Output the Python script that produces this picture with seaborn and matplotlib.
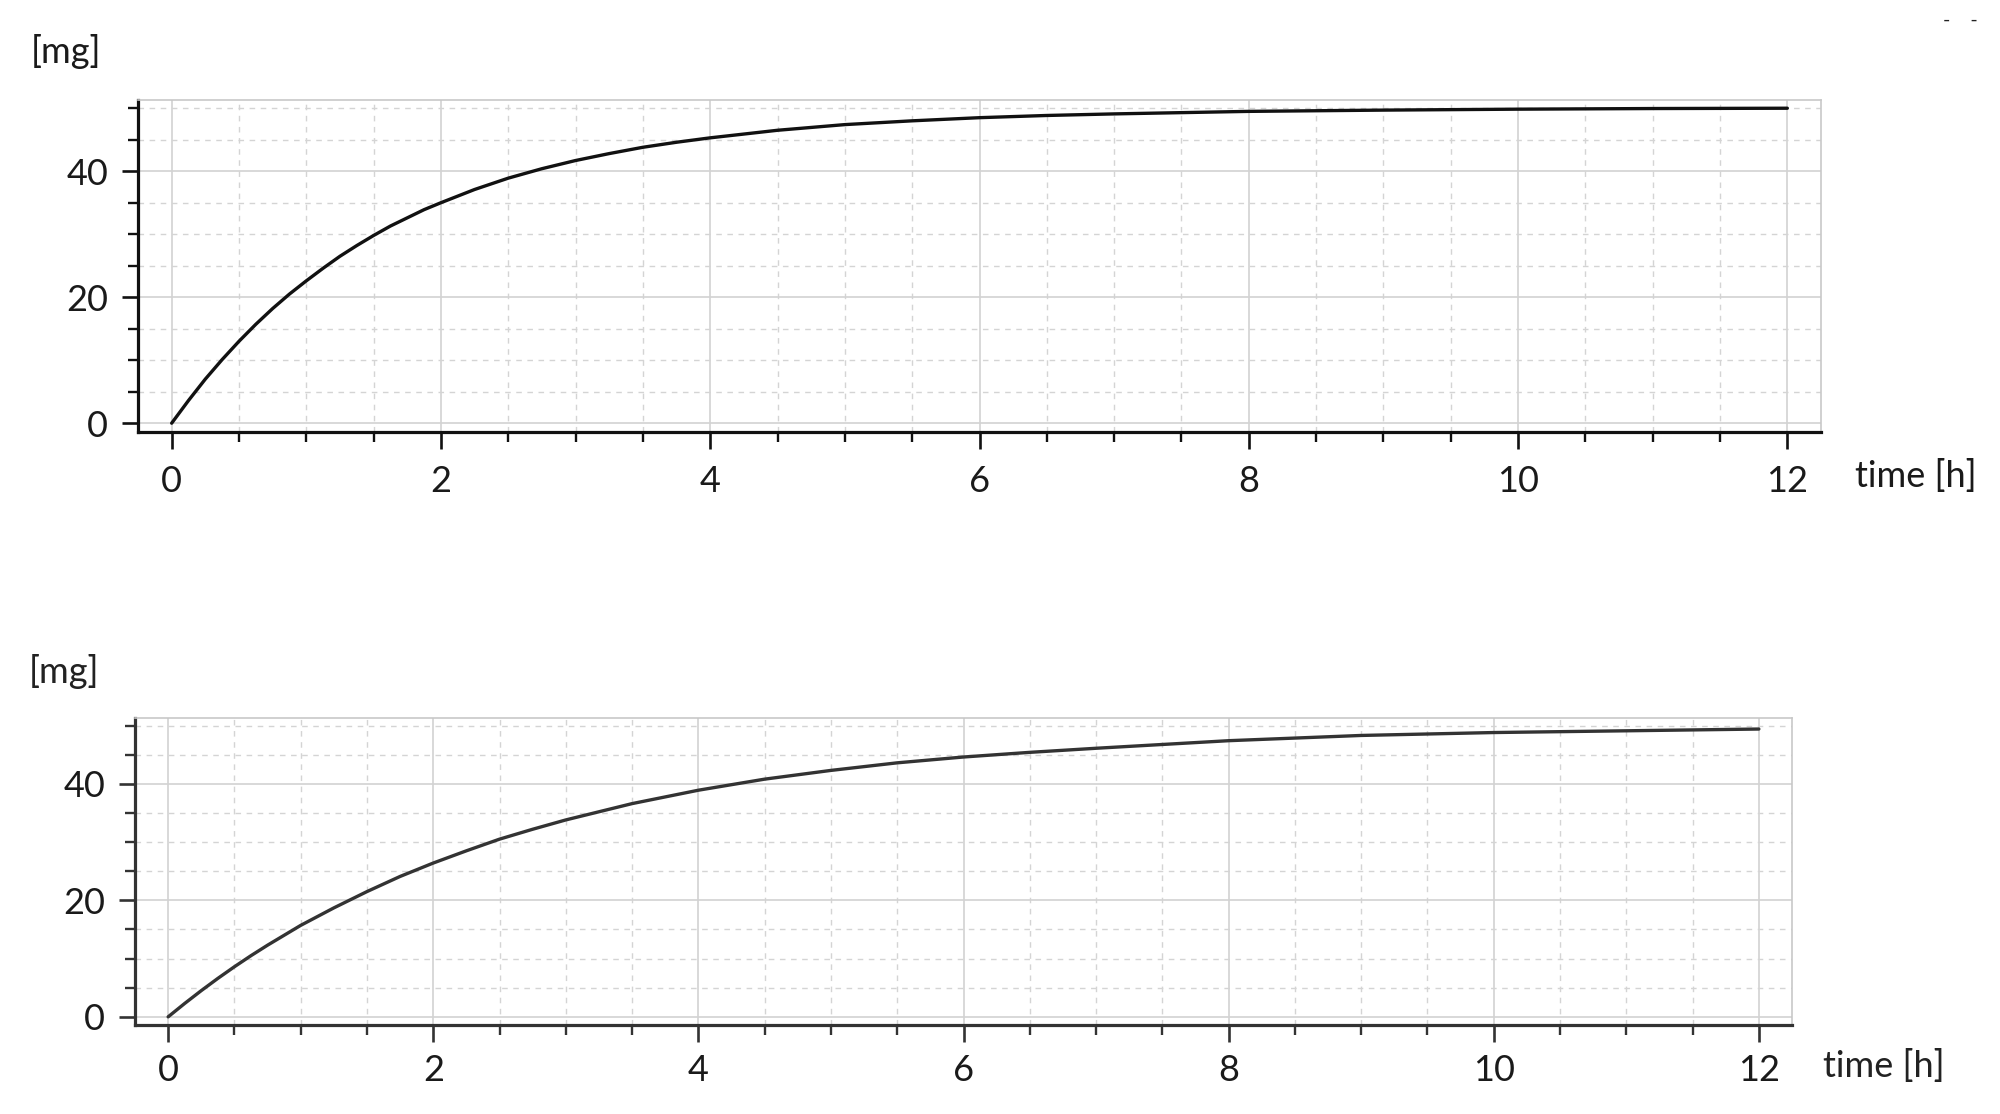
import seaborn as sns
import matplotlib.pyplot as plt
from matplotlib.ticker import MultipleLocator

# amount in mg over time
t_top = [0, 0.125, 0.25, 0.375, 0.5, 0.625, 0.75, 0.875, 1, 1.125, 1.25, 1.375, 1.5,
         1.625, 1.75, 1.875, 2, 2.25, 2.5, 2.75, 3, 3.25, 3.5, 3.75, 4, 4.5, 5, 5.5,
         6, 6.5, 7, 8, 9, 10, 11, 12]
mg_top = [0, 3.6, 7.0, 10.1, 13.0, 15.7, 18.2, 20.5, 22.6, 24.6, 26.5, 28.2, 29.8,
          31.3, 32.6, 33.9, 35.0, 37.1, 38.9, 40.4, 41.7, 42.8, 43.8, 44.6, 45.3,
          46.5, 47.4, 48.0, 48.5, 48.85, 49.1, 49.5, 49.7, 49.85, 49.95, 50.0]

t_bottom = [0, 0.125, 0.25, 0.375, 0.5, 0.625, 0.75, 0.875, 1, 1.25, 1.5, 1.75, 2,
            2.25, 2.5, 2.75, 3, 3.5, 4, 4.5, 5, 5.5, 6, 6.5, 7, 8, 9, 10, 11, 12]
mg_bottom = [0, 2.3, 4.5, 6.6, 8.6, 10.5, 12.3, 14.0, 15.7, 18.7, 21.5, 24.1, 26.4,
             28.5, 30.5, 32.2, 33.8, 36.6, 38.9, 40.8, 42.3, 43.6, 44.6, 45.4,
             46.1, 47.4, 48.3, 48.8, 49.1, 49.4]

x_ticks = [0, 2, 4, 6, 8, 10, 12]
y_ticks = [0, 20, 40]

sns.set_style('white')
plt.rcParams['font.family'] = ['Lato', 'DejaVu Sans']

fig = plt.figure(figsize=(20, 11.14), dpi=100)
ax1 = fig.add_axes([0.069, 0.6122, 0.8415, 0.298])
ax2 = fig.add_axes([0.0675, 0.0799, 0.8285, 0.2756])


def style_axes(ax, dark, xpad):
    ax.set_xlim(-0.25, 12.25)
    ax.set_ylim(-1.4, 51.3)
    ax.set_xticks(x_ticks)
    ax.set_yticks(y_ticks)
    ax.xaxis.set_minor_locator(MultipleLocator(0.5))
    ax.yaxis.set_minor_locator(MultipleLocator(5))
    ax.set_axisbelow(True)
    ax.grid(which='major', color='#d2d2d2', linewidth=1.2, linestyle='-')
    ax.grid(which='minor', color='#d4d4d4', linewidth=1.0, linestyle=(0, (4, 4)))
    for side in ['top', 'right']:
        ax.spines[side].set_color('#c8c8c8')
        ax.spines[side].set_linewidth(1.2)
    for side in ['left', 'bottom']:
        ax.spines[side].set_color(dark)
        ax.spines[side].set_linewidth(2.3)
    ax.tick_params(which='both', bottom=True, left=True, top=False, right=False)
    ax.tick_params(which='major', direction='out', length=11.5, width=1.9,
                   color=dark, labelsize=26, labelcolor='#1a1a1a')
    ax.tick_params(which='minor', direction='out', length=7, width=1.7, color=dark)
    ax.tick_params(axis='x', which='major', length=12.5, pad=xpad)
    ax.tick_params(axis='y', which='major', pad=10)
    ax.set_xlabel('')
    ax.set_ylabel('')


sns.lineplot(x=t_top, y=mg_top, ax=ax1, color='#111111', linewidth=2.4)
style_axes(ax1, '#111111', 11)

sns.lineplot(x=t_bottom, y=mg_bottom, ax=ax2, color='#333333', linewidth=2.4)
style_axes(ax2, '#333333', 8.5)

fig.text(0.0155, 0.954, '[mg]', fontsize=26, ha='left', va='center', color='#1a1a1a')
fig.text(0.9275, 0.5628, 'time [h]', fontsize=26, ha='left', va='baseline', color='#1a1a1a')
fig.text(0.0145, 0.397, '[mg]', fontsize=26, ha='left', va='center', color='#222222')
fig.text(0.9115, 0.0332, 'time [h]', fontsize=26, ha='left', va='baseline', color='#222222')
fig.text(0.9715, 0.982, '-    -', fontsize=14, ha='left', va='center', color='#222222')

fig.savefig('out.png', dpi=100)
